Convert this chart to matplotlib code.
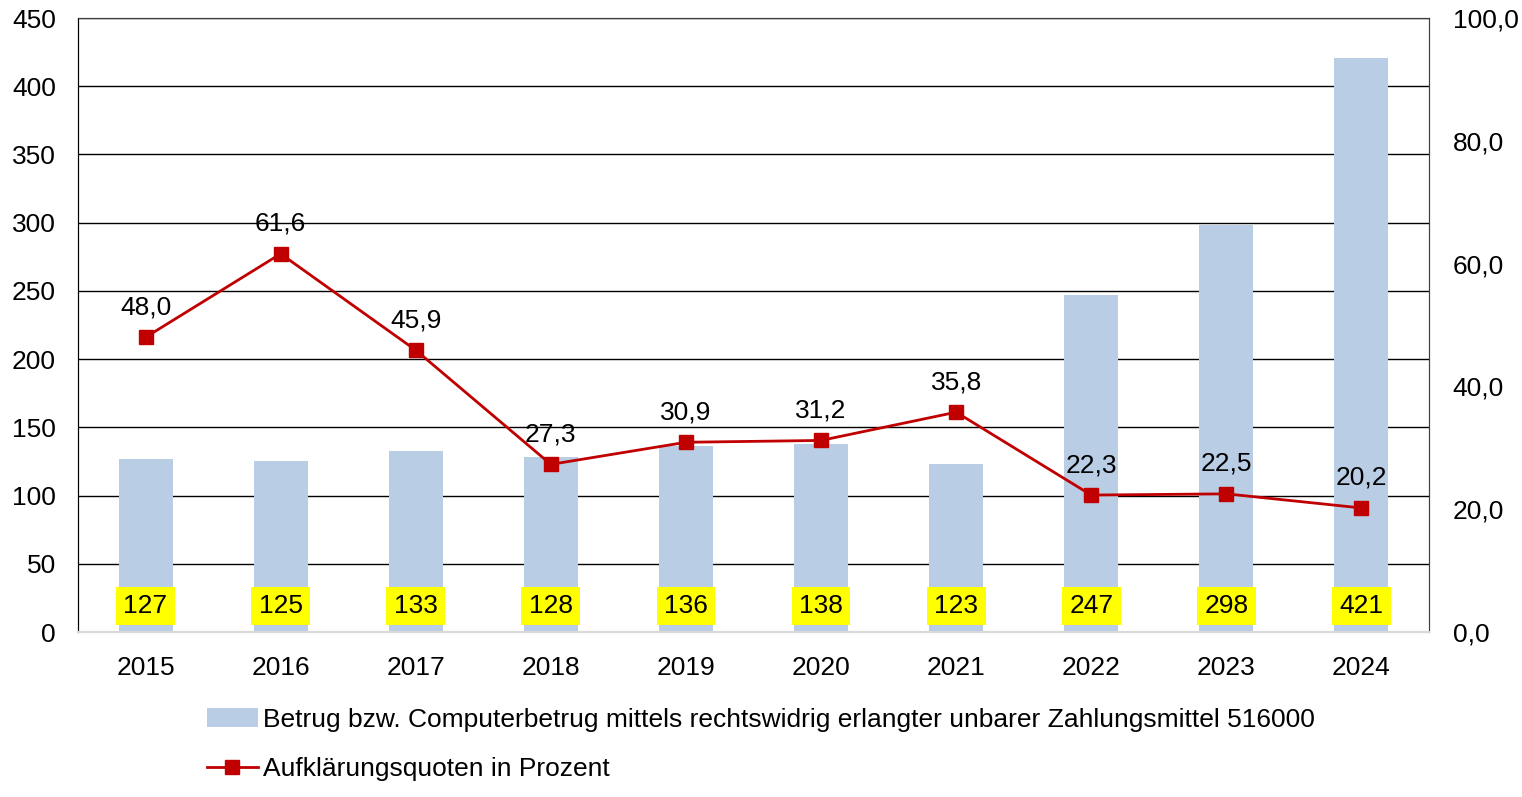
import matplotlib.pyplot as plt
import numpy as np

plt.rcParams['font.family'] = ['Liberation Sans', 'DejaVu Sans']

years = ["2015", "2016", "2017", "2018", "2019", "2020", "2021", "2022", "2023", "2024"]
cases = [127, 125, 133, 128, 136, 138, 123, 247, 298, 421]
quote = [48.0, 61.6, 45.9, 27.3, 30.9, 31.2, 35.8, 22.3, 22.5, 20.2]

bar_label = "Betrug bzw. Computerbetrug mittels rechtswidrig erlangter unbarer Zahlungsmittel 516000"
line_label = "Aufklärungsquoten in Prozent"

x = np.arange(len(years))
fs = 19

fig = plt.figure(figsize=(15.22, 7.97), dpi=100)
ax = fig.add_axes([78 / 1522, 1 - 632 / 797, (1429 - 78) / 1522, (632 - 18) / 797])
ax2 = ax.twinx()

bars = ax.bar(x, cases, width=0.4, color="#B9CDE5", zorder=2, label=bar_label)
ax.set_ylim(0, 450)
ax.set_yticks(range(0, 451, 50))
ax.set_xlim(-0.5, len(years) - 0.5)
ax.set_xticks(x)
ax.set_xticklabels(years)
ax.yaxis.grid(True, color="black", linewidth=1, zorder=0)
ax.set_axisbelow(True)
ax.tick_params(axis="x", length=0, labelsize=fs, pad=17)
ax.tick_params(axis="y", length=0, labelsize=fs, pad=16)
for v, xi in zip(cases, x):
    ax.text(xi, 19, str(v), ha="center", va="center", fontsize=fs, zorder=5,
            bbox=dict(boxstyle="square,pad=0.28", facecolor="#FFFF00", edgecolor="none"))

ln, = ax2.plot(x, quote, color="#C00000", linewidth=2, marker="s", markersize=10,
               markerfacecolor="#C00000", markeredgecolor="#C00000", label=line_label, zorder=4)
ax2.set_ylim(0, 100)
ax2.set_yticks(range(0, 101, 20))
ax2.set_yticklabels([f"{v:.1f}".replace(".", ",") for v in range(0, 101, 20)])
ax2.tick_params(axis="y", length=0, labelsize=fs, pad=17)
for q, xi in zip(quote, x):
    ax2.annotate(f"{q:.1f}".replace(".", ","), (xi, q), xytext=(0, 13), textcoords="offset points",
                 ha="center", va="bottom", fontsize=fs)

for a in (ax, ax2):
    a.spines["left"].set_color("black")
    a.spines["top"].set_color("#404040")
    a.spines["right"].set_color("#404040")
    a.spines["bottom"].set_color("#D9D9D9")
    a.spines["bottom"].set_linewidth(1.5)

fig.legend([bars, ln], [bar_label, line_label], loc="upper left", bbox_to_anchor=(183 / 1522, 1 - 684 / 797),
           frameon=False, fontsize=fs, handlelength=1.95, handletextpad=0.2, labelspacing=0.95)

fig.savefig("out.png", dpi=100)
